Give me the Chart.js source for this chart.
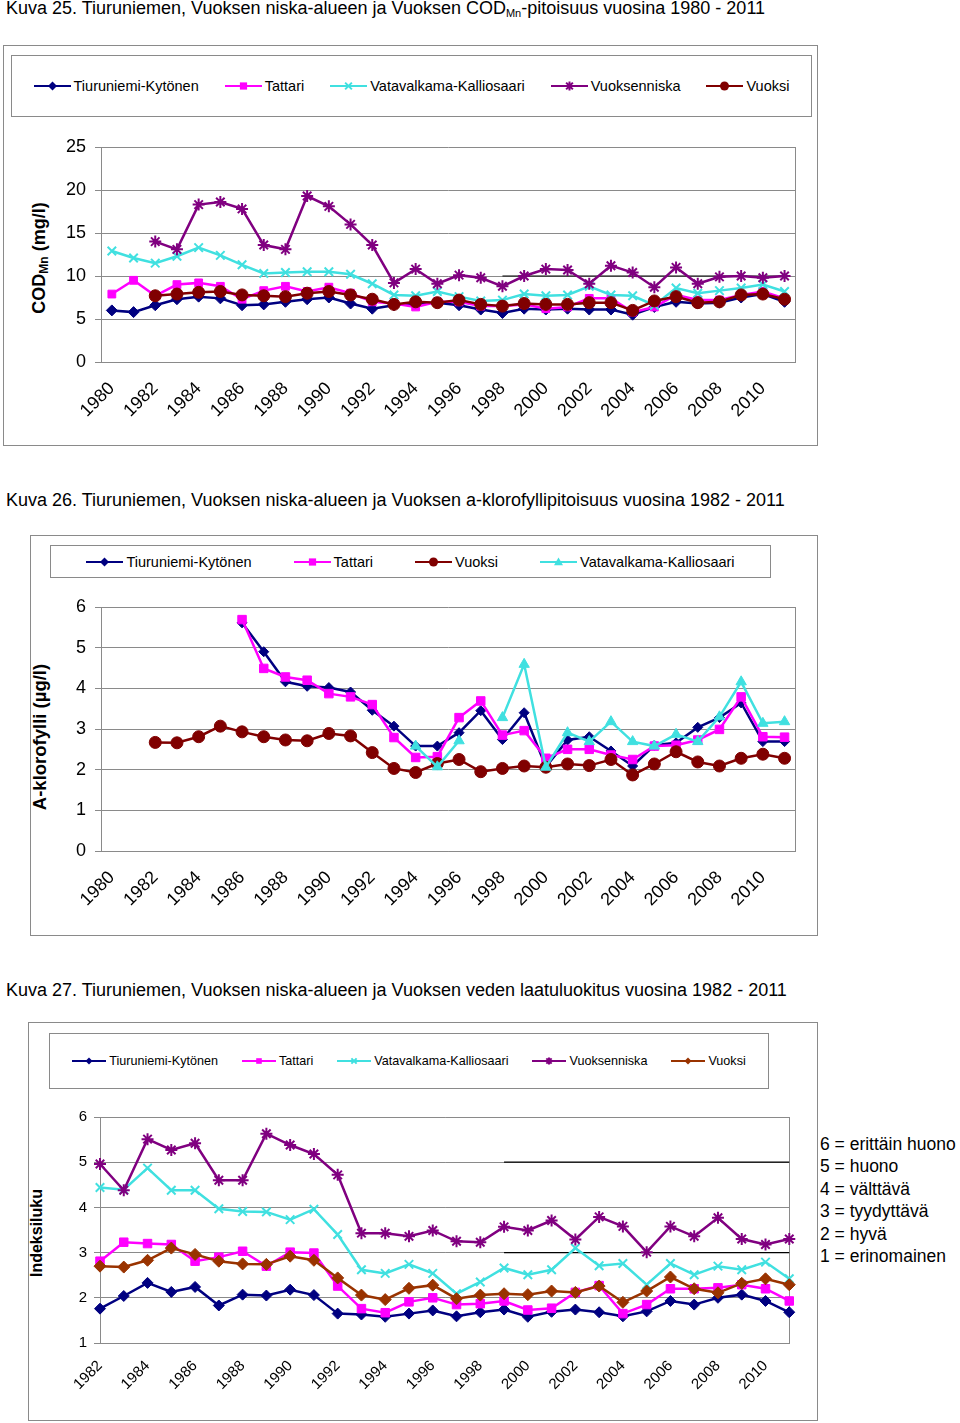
<!DOCTYPE html>
<html>
<head>
<meta charset="utf-8">
<script src="https://cdn.jsdelivr.net/npm/chart.js@4.4.0/dist/chart.umd.min.js"></script>
<style>
body { margin: 0; background: #fff; font-family: "Liberation Sans", Arial, sans-serif; color: #000; }
.title { position: absolute; left: 6px; font-size: 18px; line-height: 20px; white-space: nowrap; }
.title sub { font-size: 11px; vertical-align: -3px; }
.box { position: absolute; border: 1px solid #8a8a8a; box-sizing: border-box; }
.legend { position: absolute; border: 1px solid #8a8a8a; box-sizing: border-box; display: flex; align-items: center; justify-content: center; }
.legend .item { display: flex; align-items: center; white-space: nowrap; }
.legend .item canvas { position: static; margin-right: 3px; }
.ylab { position: absolute; font-weight: bold; white-space: nowrap; transform: translate(-50%, -50%) rotate(-90deg); }
.ylab sub { font-size: 12px; vertical-align: -3px; }
.classes { position: absolute; left: 820px; top: 1133px; font-size: 17.5px; line-height: 22.4px; white-space: nowrap; }
canvas { position: absolute; }
</style>
</head>
<body>

<div class="title" style="top:-2px">Kuva 25. Tiuruniemen, Vuoksen niska-alueen ja Vuoksen COD<sub>Mn</sub>-pitoisuus vuosina 1980 - 2011</div>
<div class="box" style="left:3px;top:45px;width:815px;height:401px"></div>
<div class="legend" id="leg1" style="left:11px;top:55px;width:801px;height:62px;gap:26px;font-size:14.5px"></div>
<div class="ylab" style="left:40px;top:258px;font-size:18px">COD<sub>Mn</sub> (mg/l)</div>
<canvas id="chart1" width="816" height="325" style="left:0;top:120px"></canvas>

<div class="title" style="top:490px">Kuva 26. Tiuruniemen, Vuoksen niska-alueen ja Vuoksen a-klorofyllipitoisuus vuosina 1982 - 2011</div>
<div class="box" style="left:30px;top:535px;width:788px;height:401px"></div>
<div class="legend" id="leg2" style="left:50px;top:545px;width:721px;height:33px;gap:42px;font-size:14.5px"></div>
<div class="ylab" style="left:40px;top:737px;font-size:18.5px">A-klorofylli (µg/l)</div>
<canvas id="chart2" width="816" height="355" style="left:0;top:580px"></canvas>

<div class="title" style="top:980px">Kuva 27. Tiuruniemen, Vuoksen niska-alueen ja Vuoksen veden laatuluokitus vuosina 1982 - 2011</div>
<div class="box" style="left:28px;top:1022px;width:790px;height:399px"></div>
<div class="legend" id="leg3" style="left:49px;top:1033px;width:720px;height:56px;gap:24px;font-size:12.6px"></div>
<div class="ylab" style="left:37px;top:1233px;font-size:16px">Indeksiluku</div>
<canvas id="chart3" width="816" height="330" style="left:0;top:1090px"></canvas>
<div class="classes">6 = erittäin huono<br>5 = huono<br>4 = välttävä<br>3 = tyydyttävä<br>2 = hyvä<br>1 = erinomainen</div>

<script>
// years 1980 - 2011 (charts 25 and 26), 1982 - 2011 (chart 27)
const years1 = ['1980','1981','1982','1983','1984','1985','1986','1987','1988','1989','1990','1991','1992','1993','1994','1995','1996','1997','1998','1999','2000','2001','2002','2003','2004','2005','2006','2007','2008','2009','2010','2011'];
const years3 = years1.slice(2);

// Kuva 25: COD Mn (mg/l)
const codTiuruniemi = [6.0,5.8,6.6,7.3,7.6,7.4,6.6,6.7,7.0,7.3,7.5, 6.8,6.2,6.6,6.8,6.9,6.6,6.1,5.7,6.2,6.1, 6.2,6.1,6.1,5.5,6.4,7.0,6.8,6.9,7.5,7.9,7.0];
const codTattari = [7.9,9.5,7.7,9.0,9.2,8.8,7.3,8.3,8.8,8.2,8.7, 8.0,7.0,6.8,6.4,7.0,7.0,6.5,6.5,6.7,6.2, 6.4,7.4,7.4,5.8,6.4,7.8,7.2,7.2,7.8,8.2,7.4];
const codVatavalkama = [12.9,12.1,11.5,12.3,13.3,12.4,11.3,10.3,10.4,10.5,10.5, 10.2,9.1,7.8,7.7,8.2,7.6,7.1,7.2,7.9,7.7, 7.8,8.8,7.8,7.7,6.6,8.6,8.0,8.3,8.6,9.0,8.2];
const codVuoksenniska = [null,null,14.0,13.1,18.3,18.6,17.8,13.6,13.1,19.3,18.1, 16.0,13.6,9.2,10.8,9.1,10.1,9.8,8.8,10.0,10.8, 10.7,9.1,11.2,10.4,8.7,11.0,9.1,9.9,10.0,9.8,10.0];
const codVuoksi = [null,null,7.7,7.9,8.1,8.2,7.8,7.7,7.6,8.0,8.2, 7.8,7.3,6.7,7.0,6.9,7.2,6.7,6.5,6.8,6.7, 6.7,6.9,6.9,6.0,7.1,7.6,6.9,7.0,7.8,7.9,7.3];
const codLimit = [null,null,null,null,null,null,null,null,null,null,null, null,null,null,null,null,null,null,10,10,10, 10,10,10,10,10,10,10,10,10,10,10];

// Kuva 26: a-klorofylli (µg/l)
const chlTiuruniemi = [null,null,null,null,null,null,5.61,4.90,4.16,4.05,4.02, 3.91,3.46,3.07,2.58,2.58,2.91,3.45,2.74,3.40,2.07, 2.73,2.81,2.46,2.09,2.60,2.66,3.04,3.28,3.64,2.69,2.69];
const chlTattari = [null,null,null,null,null,null,5.69,4.49,4.28,4.20,3.87, 3.79,3.60,2.79,2.30,2.32,3.28,3.69,2.85,2.96,2.28, 2.50,2.50,2.36,2.25,2.58,2.60,2.73,2.99,3.79,2.81,2.80];
const chlVuoksi = [null,null,2.67,2.66,2.81,3.07,2.93,2.81,2.73,2.71,2.89, 2.83,2.42,2.03,1.93,2.15,2.25,1.95,2.03,2.09,2.06, 2.14,2.10,2.25,1.87,2.14,2.44,2.19,2.09,2.28,2.38,2.28];
const chlVatavalkama = [null,null,null,null,null,null,null,null,null,null,null, null,null,null,2.58,2.07,2.71,null,3.28,4.59,2.06, 2.91,2.69,3.18,2.69,2.58,2.87,2.69,3.30,4.16,3.14,3.18];

// Kuva 27: laatuluokitus (indeksiluku)
const idxTiuruniemi = [1.76,2.04,2.33,2.13,2.24,1.83,2.07,2.05,2.18,2.06, 1.65,1.63,1.58,1.65,1.72,1.59,1.68,1.74,1.58,1.69, 1.74,1.68,1.59,1.70,1.93,1.85,2.00,2.07,1.93,1.68];
const idxTattari = [2.81,3.23,3.20,3.18,2.81,2.90,3.03,2.70,3.01,2.99, 2.26,1.76,1.67,1.91,2.00,1.85,1.87,1.93,1.73,1.77, 2.12,2.27,1.65,1.85,2.20,2.20,2.22,2.29,2.20,1.93];
const idxVatavalkama = [4.44,4.39,4.87,4.38,4.38,3.97,3.91,3.90,3.73,3.96, 3.40,2.62,2.54,2.74,2.54,2.09,2.35,2.66,2.51,2.62, 3.10,2.71,2.76,2.29,2.76,2.51,2.70,2.62,2.79,2.42];
const idxVuoksenniska = [4.96,4.38,5.51,5.27,5.42,4.60,4.60,5.63,5.38,5.18, 4.72,3.43,3.43,3.36,3.49,3.25,3.23,3.57,3.49,3.71, 3.29,3.79,3.58,3.01,3.58,3.36,3.77,3.30,3.18,3.30];
const idxVuoksi = [2.70,2.68,2.83,3.10,2.96,2.81,2.75,2.74,2.92,2.83, 2.44,2.06,1.96,2.21,2.28,1.98,2.06,2.09,2.07,2.15, 2.12,2.26,1.90,2.15,2.46,2.20,2.11,2.32,2.42,2.29];
const idxLimitHigh = [null,null,null,null,null,null,null,null,null,null, null,null,null,null,null,null,null,5,5,5, 5,5,5,5,5,5,5,5,5,5];
const idxLimitLow = [null,null,null,null,null,null,null,null,null,null, null,null,null,null,null,null,null,3,3,3, 3,3,3,3,3,3,3,3,3,3];

const NAVY = '#000080', PINK = '#ff00ff', CYAN = '#40e0e0', PURPLE = '#800080', MAROON = '#800000', BROWN = '#993300';
const GRID = '#8a8a8a';

function series(label, data, color, style, radius, order) {
  const stroked = style === 'crossRot' || style === 'star';
  return {
    label, data, order,
    borderColor: color, backgroundColor: color, borderWidth: 2.5,
    pointStyle: style, pointRadius: radius, pointHoverRadius: radius,
    pointBorderColor: color, pointBackgroundColor: color,
    pointBorderWidth: stroked ? 2 : 1,
    tension: 0, spanGaps: false
  };
}

function limitLine(data) {
  return { label: '', data, borderColor: '#000', borderWidth: 1.2, pointRadius: 0, order: 99, spanGaps: false };
}

function drawMarker(ctx, style, x, y, r) {
  ctx.beginPath();
  if (style === 'rectRot') {
    ctx.moveTo(x, y - r); ctx.lineTo(x + r, y); ctx.lineTo(x, y + r); ctx.lineTo(x - r, y); ctx.closePath(); ctx.fill();
  } else if (style === 'rect') {
    ctx.fillRect(x - r * 0.8, y - r * 0.8, r * 1.6, r * 1.6);
  } else if (style === 'circle') {
    ctx.arc(x, y, r, 0, Math.PI * 2); ctx.fill();
  } else if (style === 'triangle') {
    ctx.moveTo(x, y - r); ctx.lineTo(x + r, y + r * 0.7); ctx.lineTo(x - r, y + r * 0.7); ctx.closePath(); ctx.fill();
  } else if (style === 'crossRot') {
    const d = r * 0.75;
    ctx.moveTo(x - d, y - d); ctx.lineTo(x + d, y + d); ctx.moveTo(x + d, y - d); ctx.lineTo(x - d, y + d); ctx.stroke();
  } else if (style === 'star') {
    const d = r * 0.75;
    ctx.moveTo(x - d, y - d); ctx.lineTo(x + d, y + d); ctx.moveTo(x + d, y - d); ctx.lineTo(x - d, y + d);
    ctx.moveTo(x, y - r); ctx.lineTo(x, y + r); ctx.stroke();
  }
}

function buildLegend(id, items, len, r) {
  const el = document.getElementById(id);
  items.forEach(it => {
    const div = document.createElement('div');
    div.className = 'item';
    const c = document.createElement('canvas');
    c.width = len; c.height = 14;
    const ctx = c.getContext('2d');
    ctx.strokeStyle = it.color; ctx.fillStyle = it.color; ctx.lineWidth = 2;
    ctx.beginPath(); ctx.moveTo(0, 7); ctx.lineTo(len, 7); ctx.stroke();
    drawMarker(ctx, it.style, len / 2, 7, r);
    const span = document.createElement('span');
    span.textContent = it.label;
    div.appendChild(c); div.appendChild(span);
    el.appendChild(div);
  });
}

function xAxis(labels, offset, fontSize, pad, height) {
  return {
    type: 'category', offset,
    grid: { display: false, drawTicks: false },
    border: { color: GRID, width: 1 },
    ticks: {
      autoSkip: false, minRotation: 45, maxRotation: 45, padding: pad,
      color: '#000', font: { size: fontSize, family: '"Liberation Sans", Arial, sans-serif' },
      callback: (v, i) => (Number(labels[i]) % 2 === 0 ? labels[i] : '')
    },
    afterFit: s => { s.height = height; }
  };
}

function yAxis(min, max, fontSize, pad, width) {
  return {
    min, max,
    ticks: { stepSize: max - min > 10 ? 5 : 1, padding: pad, color: '#000', font: { size: fontSize, family: '"Liberation Sans", Arial, sans-serif' } },
    grid: { color: GRID, lineWidth: 1, tickLength: 6 },
    border: { color: GRID, width: 1 },
    afterFit: s => { s.width = width; }
  };
}

const rightBorder = {
  position: 'right', display: true,
  grid: { display: false, drawTicks: false },
  ticks: { display: false },
  border: { color: GRID, width: 1 },
  afterFit: s => { s.width = 0; }
};

function makeChart(id, labels, datasets, scales, padding) {
  return new Chart(document.getElementById(id), {
    type: 'line',
    data: { labels, datasets },
    options: {
      responsive: false, animation: false, devicePixelRatio: 1,
      layout: { padding },
      plugins: { legend: { display: false }, tooltip: { enabled: false } },
      scales
    }
  });
}

// Kuva 25
buildLegend('leg1', [
  { label: 'Tiuruniemi-Kytönen', color: NAVY, style: 'rectRot' },
  { label: 'Tattari', color: PINK, style: 'rect' },
  { label: 'Vatavalkama-Kalliosaari', color: CYAN, style: 'crossRot' },
  { label: 'Vuoksenniska', color: PURPLE, style: 'star' },
  { label: 'Vuoksi', color: MAROON, style: 'circle' }
], 37, 4.5);

makeChart('chart1', years1, [
  limitLine(codLimit),
  series('Tiuruniemi-Kytönen', codTiuruniemi, NAVY, 'rectRot', 5.5, 5),
  series('Tattari', codTattari, PINK, 'rect', 5.5, 4),
  series('Vatavalkama-Kalliosaari', codVatavalkama, CYAN, 'crossRot', 6, 3),
  series('Vuoksenniska', codVuoksenniska, PURPLE, 'star', 6, 2),
  series('Vuoksi', codVuoksi, MAROON, 'circle', 6, 1)
], {
  x: xAxis(years1, true, 18, 16, 83),
  y: yAxis(0, 25, 18, 9, 101),
  y2: rightBorder
}, { top: 27, right: 11, bottom: 0, left: 0 });

// Kuva 26
buildLegend('leg2', [
  { label: 'Tiuruniemi-Kytönen', color: NAVY, style: 'rectRot' },
  { label: 'Tattari', color: PINK, style: 'rect' },
  { label: 'Vuoksi', color: MAROON, style: 'circle' },
  { label: 'Vatavalkama-Kalliosaari', color: CYAN, style: 'triangle' }
], 37, 4.5);

makeChart('chart2', years1, [
  series('Tiuruniemi-Kytönen', chlTiuruniemi, NAVY, 'rectRot', 5, 4),
  series('Tattari', chlTattari, PINK, 'rect', 6, 3),
  series('Vuoksi', chlVuoksi, MAROON, 'circle', 6, 2),
  series('Vatavalkama-Kalliosaari', chlVatavalkama, CYAN, 'triangle', 6, 1)
], {
  x: xAxis(years1, true, 18, 16, 84),
  y: yAxis(0, 6, 18, 9, 101),
  y2: rightBorder
}, { top: 27, right: 11, bottom: 0, left: 0 });

// Kuva 27
buildLegend('leg3', [
  { label: 'Tiuruniemi-Kytönen', color: NAVY, style: 'rectRot' },
  { label: 'Tattari', color: PINK, style: 'rect' },
  { label: 'Vatavalkama-Kalliosaari', color: CYAN, style: 'crossRot' },
  { label: 'Vuoksenniska', color: PURPLE, style: 'star' },
  { label: 'Vuoksi', color: BROWN, style: 'rectRot' }
], 34, 3.5);

makeChart('chart3', years3, [
  limitLine(idxLimitHigh),
  limitLine(idxLimitLow),
  series('Tiuruniemi-Kytönen', idxTiuruniemi, NAVY, 'rectRot', 5.5, 5),
  series('Tattari', idxTattari, PINK, 'rect', 6, 4),
  series('Vatavalkama-Kalliosaari', idxVatavalkama, CYAN, 'crossRot', 6, 3),
  series('Vuoksenniska', idxVuoksenniska, PURPLE, 'star', 6, 2),
  series('Vuoksi', idxVuoksi, BROWN, 'rectRot', 6, 1)
], {
  x: xAxis(years3, false, 15, 14, 77),
  y: yAxis(1, 6, 15, 7, 100),
  y2: rightBorder
}, { top: 27, right: 18, bottom: 0, left: 0 });
</script>
</body>
</html>
